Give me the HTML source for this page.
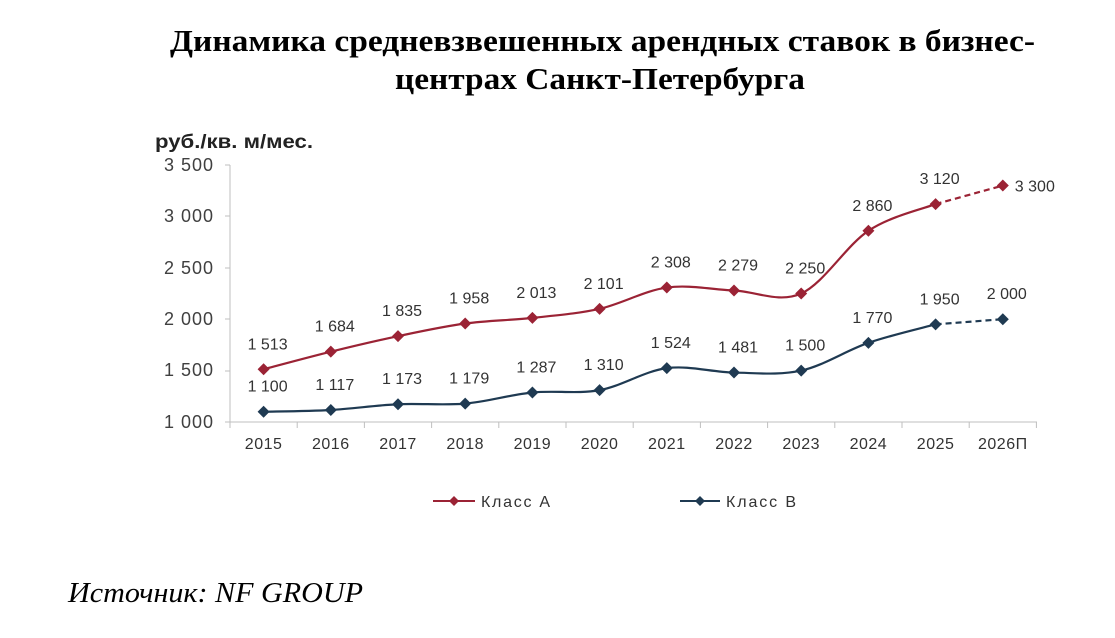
<!DOCTYPE html>
<html><head><meta charset="utf-8"><style>
body{margin:0;background:#fff;width:1115px;height:633px;overflow:hidden}
</style></head><body>
<svg width="1115" height="633" xmlns="http://www.w3.org/2000/svg">
<text x="170" y="51" textLength="865" lengthAdjust="spacingAndGlyphs" font-family="Liberation Serif,serif" font-weight="bold" font-size="31">Динамика средневзвешенных арендных ставок в бизнес-</text>
<text x="395" y="89" textLength="410" lengthAdjust="spacingAndGlyphs" font-family="Liberation Serif,serif" font-weight="bold" font-size="31">центрах Санкт-Петербурга</text>
<text x="155" y="148" textLength="158" lengthAdjust="spacingAndGlyphs" font-family="Liberation Sans,sans-serif" font-weight="bold" font-size="19" fill="#222">руб./кв. м/мес.</text>
<g font-family="Liberation Sans,sans-serif" font-size="18" letter-spacing="1" fill="#404040" text-anchor="end">
<text x="214" y="171">3 500</text><text x="214" y="222">3 000</text><text x="214" y="274">2 500</text>
<text x="214" y="325">2 000</text><text x="214" y="376">1 500</text><text x="214" y="428">1 000</text>
</g>
<g stroke="#bfbfbf" stroke-width="1">
<line x1="230" y1="165" x2="230" y2="422"/><line x1="230" y1="422" x2="1037" y2="422"/>
<line x1="225" y1="165" x2="230" y2="165"/><line x1="225" y1="216" x2="230" y2="216"/><line x1="225" y1="268" x2="230" y2="268"/><line x1="225" y1="319" x2="230" y2="319"/><line x1="225" y1="371" x2="230" y2="371"/><line x1="225" y1="422" x2="230" y2="422"/>
<g id="tk"></g>
</g>
<g font-family="Liberation Sans,sans-serif" font-size="16" fill="#333" text-anchor="middle" id="xl"></g>
<g id="series"></g>
<line x1="433" y1="501" x2="475" y2="501" stroke="#9b2335" stroke-width="2"/>
<path d="M454 496 L459 501 L454 506 L449 501Z" fill="#9b2335"/>
<text x="481" y="507" textLength="69" font-family="Liberation Sans,sans-serif" font-size="16" fill="#333">Класс А</text>
<line x1="680" y1="501" x2="720" y2="501" stroke="#1f3a52" stroke-width="2"/>
<path d="M700 496 L705 501 L700 506 L695 501Z" fill="#1f3a52"/>
<text x="726" y="507" textLength="70" font-family="Liberation Sans,sans-serif" font-size="16" fill="#333">Класс В</text>
<text x="68" y="602" textLength="295" lengthAdjust="spacingAndGlyphs" font-family="Liberation Serif,serif" font-style="italic" font-size="28">Источник: NF GROUP</text>
</svg>
<script>
var NS="http://www.w3.org/2000/svg";
var years=["2015","2016","2017","2018","2019","2020","2021","2022","2023","2024","2025","2026П"];
var X=years.map(function(_,i){return 230+67.2*(i+0.5)});
function Y(v){return 422-(v-1000)*0.1028}
var tk=document.getElementById("tk"),xl=document.getElementById("xl");
for(var i=0;i<=12;i++){var l=document.createElementNS(NS,"line");var x=230+67.2*i;l.setAttribute("x1",x);l.setAttribute("x2",x);l.setAttribute("y1",422);l.setAttribute("y2",428);tk.appendChild(l);}
years.forEach(function(y,i){var t=document.createElementNS(NS,"text");t.setAttribute("x",X[i]);t.setAttribute("y",449);t.setAttribute("letter-spacing","0.5");t.textContent=y;xl.appendChild(t);});
var A=[1513,1684,1835,1958,2013,2101,2308,2279,2250,2860,3120,3300];
var B=[1100,1117,1173,1179,1287,1310,1524,1481,1500,1770,1950,2000];
var g=document.getElementById("series");
function fmt(v){var s=String(v);return s.length>3?s.slice(0,s.length-3)+" "+s.slice(-3):s}
function draw(D,col){
 var P=D.map(function(v,i){return [X[i],Y(v)]});
 var d="M"+P[0][0]+" "+P[0][1];
 for(var i=0;i<10;i++){var p0=P[Math.max(i-1,0)],p1=P[i],p2=P[i+1],p3=P[Math.min(i+2,10)];
  d+=" C"+(p1[0]+(p2[0]-p0[0])/6)+" "+(p1[1]+(p2[1]-p0[1])/6)+" "+(p2[0]-(p3[0]-p1[0])/6)+" "+(p2[1]-(p3[1]-p1[1])/6)+" "+p2[0]+" "+p2[1];}
 var pa=document.createElementNS(NS,"path");pa.setAttribute("d",d);pa.setAttribute("fill","none");pa.setAttribute("stroke",col);pa.setAttribute("stroke-width","2.2");g.appendChild(pa);
 var dl=document.createElementNS(NS,"line");dl.setAttribute("x1",P[10][0]);dl.setAttribute("y1",P[10][1]);dl.setAttribute("x2",P[11][0]);dl.setAttribute("y2",P[11][1]);dl.setAttribute("stroke",col);dl.setAttribute("stroke-width","2.2");dl.setAttribute("stroke-dasharray","6 4");g.appendChild(dl);
 P.forEach(function(p,i){var m=document.createElementNS(NS,"path");m.setAttribute("d","M"+p[0]+" "+(p[1]-6)+" l6 6 l-6 6 l-6 -6z");m.setAttribute("fill",col);g.appendChild(m);
  var t=document.createElementNS(NS,"text");t.setAttribute("font-family","Liberation Sans,sans-serif");t.setAttribute("font-size","16");t.setAttribute("fill","#333");
  if(col=="#9b2335"&&i==11){t.setAttribute("x",p[0]+12);t.setAttribute("y",p[1]+6);}else{t.setAttribute("x",p[0]+4);t.setAttribute("y",p[1]-20);t.setAttribute("text-anchor","middle");}
  t.textContent=fmt(D[i]);g.appendChild(t);});
}
draw(A,"#9b2335");draw(B,"#1f3a52");
</script>
</body></html>
